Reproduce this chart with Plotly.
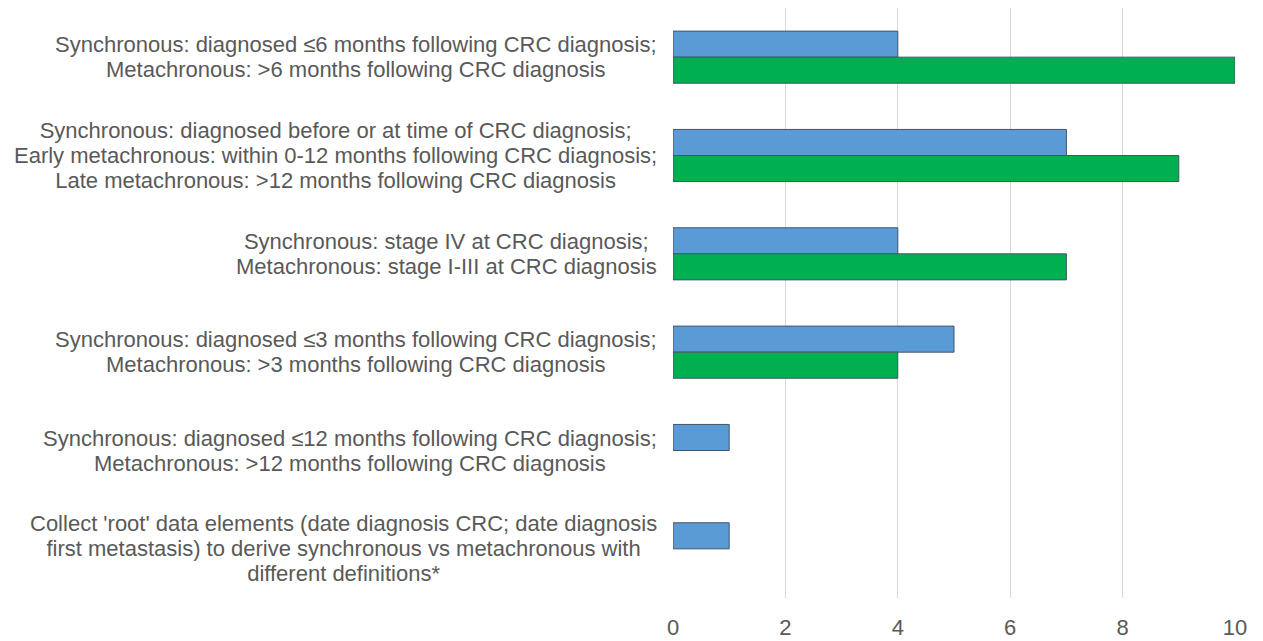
import plotly.graph_objects as go

categories = [
    ["Synchronous: diagnosed \u22646 months following CRC diagnosis;",
     "Metachronous: >6 months following CRC diagnosis"],
    ["Synchronous: diagnosed before or at time of CRC diagnosis;",
     "Early metachronous: within 0-12 months following CRC diagnosis;",
     "Late metachronous: >12 months following CRC diagnosis"],
    ["Synchronous: stage IV at CRC diagnosis;",
     "Metachronous: stage I-III at CRC diagnosis"],
    ["Synchronous: diagnosed \u22643 months following CRC diagnosis;",
     "Metachronous: >3 months following CRC diagnosis"],
    ["Synchronous: diagnosed \u226412 months following CRC diagnosis;",
     "Metachronous: >12 months following CRC diagnosis"],
    ["Collect 'root' data elements (date diagnosis CRC; date diagnosis",
     "first metastasis) to derive synchronous vs metachronous with",
     "different definitions*"],
]
series_a = [4, 7, 4, 5, 1, 1]
series_b = [10, 9, 7, 4, None, None]
x_ticks = [0, 2, 4, 6, 8, 10]

ids = [f"c{i}" for i in range(len(categories))]

fig = go.Figure()
fig.add_trace(go.Bar(y=ids, x=series_a, orientation="h", name="A",
                     marker=dict(color="#5B9BD5", line=dict(color="#44546A", width=1))))
fig.add_trace(go.Bar(y=ids, x=series_b, orientation="h", name="B",
                     marker=dict(color="#00B050", line=dict(color="#44546A", width=1))))

for cid, lines in zip(ids, categories):
    text = "<br>".join(f'<span style="font-size:22px">{ln}</span>' for ln in lines)
    fig.add_annotation(x=0, xref="paper", y=cid, yref="y", text=text,
                       xanchor="right", yanchor="middle", align="center",
                       showarrow=False, xshift=-14,
                       font=dict(family="Liberation Sans, Arial", size=19.2, color="#595959"))

fig.update_layout(
    width=1263, height=641,
    margin=dict(l=665, r=36, t=0, b=51),
    plot_bgcolor="white", paper_bgcolor="white",
    barmode="group", bargap=0.47, bargroupgap=0,
    showlegend=False,
    font=dict(family="Liberation Sans, Arial", size=22, color="#595959"),
)
fig.update_xaxes(range=[0, 10], tickvals=x_ticks, showgrid=True, gridcolor="#D9D9D9",
                 gridwidth=1, zeroline=False, showline=False, ticks="",
                 ticklabelstandoff=14,
                 tickfont=dict(size=22, color="#595959"))
fig.update_yaxes(autorange="reversed", showticklabels=False, showgrid=False,
                 zeroline=False, showline=False, ticks="")

fig.write_html("out.html")
